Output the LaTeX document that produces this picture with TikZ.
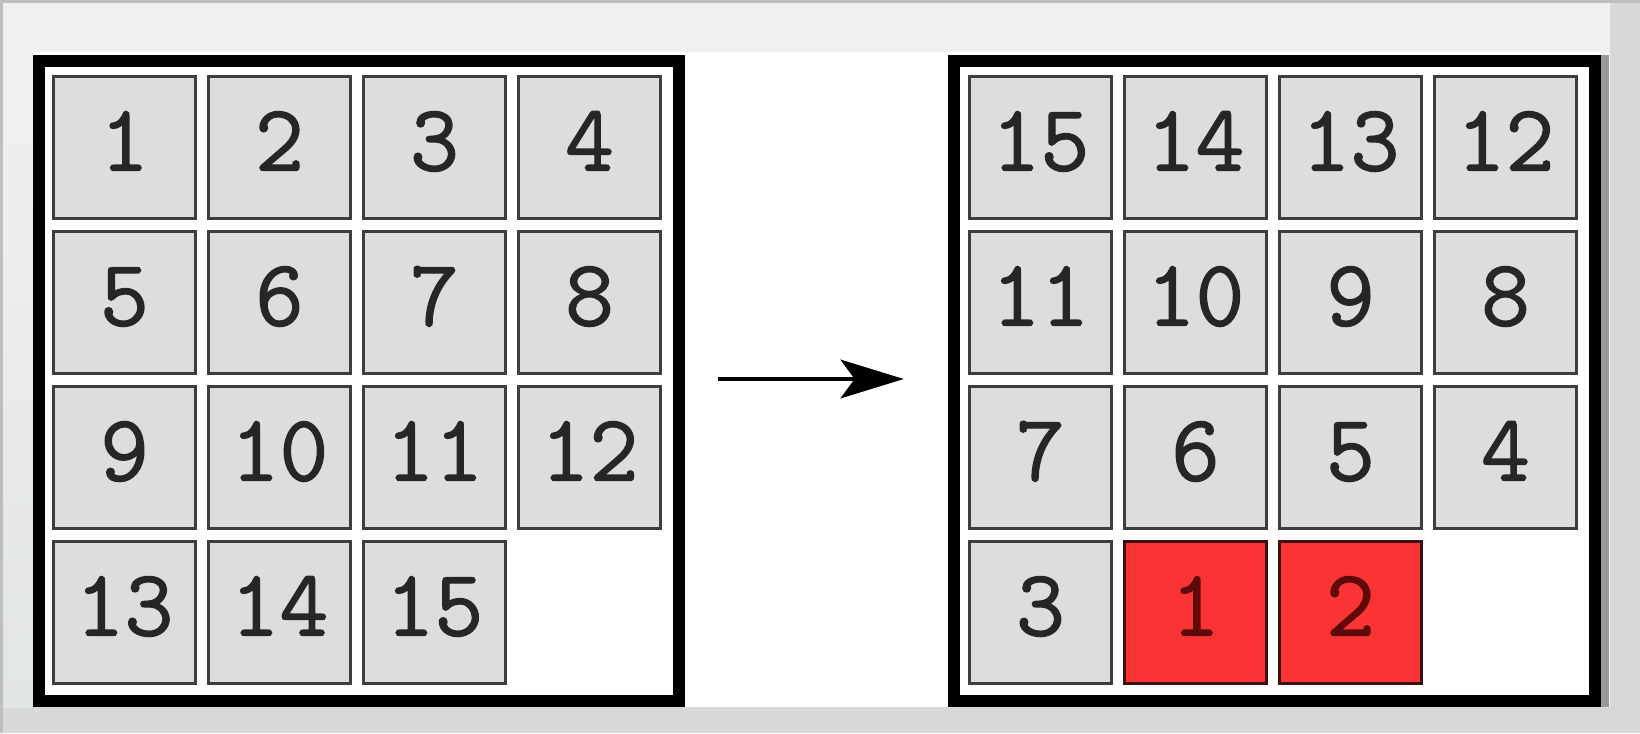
\documentclass[tikz,border=0pt]{standalone}
\usepackage{fontspec}
\newfontfamily\tilefont[FakeBold=1.3]{Latin Modern Mono}
\usetikzlibrary{arrows.meta}
\definecolor{bgdark}{HTML}{D6D8D9}
\definecolor{bgedge}{HTML}{BEBEBE}
\definecolor{bglight}{HTML}{F0F0F0}
\definecolor{bgleftbot}{HTML}{E2E5E5}
\definecolor{shadowgray}{HTML}{9A9A9A}
\definecolor{tilegray}{HTML}{DDDDDD}
\definecolor{tileline}{HTML}{3E3E3E}
\definecolor{tilered}{HTML}{FA3434}
\definecolor{redline}{HTML}{3C1010}
\definecolor{redtext}{HTML}{5E0A0A}
\begin{document}
\begin{tikzpicture}[x=0.01cm,y=-0.01cm,
  board/.style={draw=black, fill=white, line width=3.4pt, minimum width=6.40cm, minimum height=6.40cm, inner sep=0pt},
  tile/.style={draw=tileline, fill=tilegray, line width=1pt, minimum size=1.415cm, inner sep=0pt,
    font=\tilefont\fontsize{27}{27}\selectfont, text=black!85, text height=0.58cm, text depth=0.12cm},
  redtile/.style={tile, fill=tilered, draw=redline, text=redtext},
  moveline/.style={line width=1.1pt, -{Stealth[length=18pt,width=11pt,inset=4pt]}}]
\useasboundingbox (0,0) rectangle (1640,733);
% background
\fill[bgdark] (0,0) rectangle (1640,733);
\fill[bgedge] (0,0) rectangle (1640,3);
\fill[bgedge] (0,0) rectangle (3,733);
\fill[bglight] (3,3) rectangle (1610,707);
\shade[top color=bglight, bottom color=bgleftbot] (3,52) rectangle (33,707);
\fill[white] (33,52) rectangle (1600,707);
\fill[shadowgray] (1598,55) rectangle (1609,707);
% boards
\node[board] (LB) at (359,381) {};
\node[board] (RB) at (1274.5,381) {};
% left tiles
\foreach \n [count=\i from 0] in {1,...,15} {
  \pgfmathtruncatemacro\r{int(\i/4)}
  \pgfmathtruncatemacro\c{mod(\i,4)}
  \node[tile] (L\n) at (124.5+155*\c, 147.5+155*\r) {\n};
}
% right tiles
\foreach \n [count=\i from 0] in {15,14,13,12,11,10,9,8,7,6,5,4,3} {
  \pgfmathtruncatemacro\r{int(\i/4)}
  \pgfmathtruncatemacro\c{mod(\i,4)}
  \node[tile] (R\n) at (1040.5+155*\c, 147.5+155*\r) {\n};
}
\node[redtile] (R1) at (1195.5,612.5) {1};
\node[redtile] (R2) at (1350.5,612.5) {2};
% arrow
\draw[moveline, shorten <=0.33cm, shorten >=0.445cm] ([yshift=0.02cm]LB.east) -- ([yshift=0.02cm]RB.west);
\end{tikzpicture}
\end{document}
